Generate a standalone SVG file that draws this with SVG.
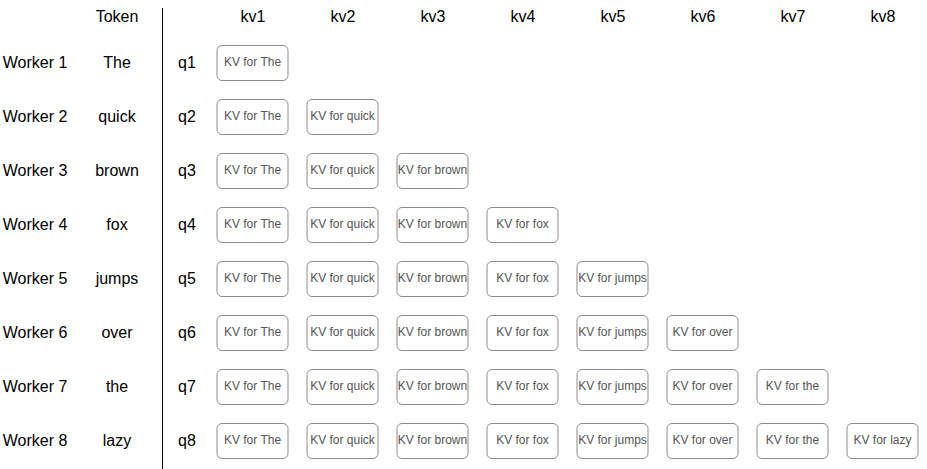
<svg xmlns="http://www.w3.org/2000/svg" width="927" height="469" viewBox="0 0 927 469">
<style>
.lbl{font-family:"Liberation Sans",Arial,sans-serif;font-size:16px;fill:#000;text-anchor:middle;dominant-baseline:central}
.box rect{fill:#fff;stroke:#8c8c8c;stroke-width:1}
.box text{font-family:"Liberation Sans",Arial,sans-serif;font-size:12px;fill:#555;text-anchor:middle;dominant-baseline:central}
</style>
<rect width="927" height="469" fill="#fff"/>
<g id="connectors">
<line x1="162.5" y1="8" x2="162.5" y2="469" stroke="#000" stroke-width="1"/>
</g>
<g id="headers">
<text class="lbl" x="117" y="16.5">Token</text>
<text class="lbl" x="253" y="16.5">kv1</text>
<text class="lbl" x="343" y="16.5">kv2</text>
<text class="lbl" x="433" y="16.5">kv3</text>
<text class="lbl" x="523" y="16.5">kv4</text>
<text class="lbl" x="613" y="16.5">kv5</text>
<text class="lbl" x="703" y="16.5">kv6</text>
<text class="lbl" x="793" y="16.5">kv7</text>
<text class="lbl" x="883" y="16.5">kv8</text>
</g>
<g id="rows">
<g id="row1"><text class="lbl" x="35" y="62">Worker 1</text><text class="lbl" x="117" y="62">The</text><text class="lbl" x="187" y="62">q1</text></g>
<g id="row2"><text class="lbl" x="35" y="116">Worker 2</text><text class="lbl" x="117" y="116">quick</text><text class="lbl" x="187" y="116">q2</text></g>
<g id="row3"><text class="lbl" x="35" y="170">Worker 3</text><text class="lbl" x="117" y="170">brown</text><text class="lbl" x="187" y="170">q3</text></g>
<g id="row4"><text class="lbl" x="35" y="224">Worker 4</text><text class="lbl" x="117" y="224">fox</text><text class="lbl" x="187" y="224">q4</text></g>
<g id="row5"><text class="lbl" x="35" y="278">Worker 5</text><text class="lbl" x="117" y="278">jumps</text><text class="lbl" x="187" y="278">q5</text></g>
<g id="row6"><text class="lbl" x="35" y="332">Worker 6</text><text class="lbl" x="117" y="332">over</text><text class="lbl" x="187" y="332">q6</text></g>
<g id="row7"><text class="lbl" x="35" y="386">Worker 7</text><text class="lbl" x="117" y="386">the</text><text class="lbl" x="187" y="386">q7</text></g>
<g id="row8"><text class="lbl" x="35" y="440">Worker 8</text><text class="lbl" x="117" y="440">lazy</text><text class="lbl" x="187" y="440">q8</text></g>
</g>
<g id="kv1-1" class="box"><rect x="217" y="45.5" width="71" height="35" rx="5"/><text x="252.5" y="62">KV for The</text></g>
<g id="kv2-1" class="box"><rect x="217" y="99.5" width="71" height="35" rx="5"/><text x="252.5" y="116">KV for The</text></g>
<g id="kv2-2" class="box"><rect x="307" y="99.5" width="71" height="35" rx="5"/><text x="342.5" y="116">KV for quick</text></g>
<g id="kv3-1" class="box"><rect x="217" y="153.5" width="71" height="35" rx="5"/><text x="252.5" y="170">KV for The</text></g>
<g id="kv3-2" class="box"><rect x="307" y="153.5" width="71" height="35" rx="5"/><text x="342.5" y="170">KV for quick</text></g>
<g id="kv3-3" class="box"><rect x="397" y="153.5" width="71" height="35" rx="5"/><text x="432.5" y="170">KV for brown</text></g>
<g id="kv4-1" class="box"><rect x="217" y="207.5" width="71" height="35" rx="5"/><text x="252.5" y="224">KV for The</text></g>
<g id="kv4-2" class="box"><rect x="307" y="207.5" width="71" height="35" rx="5"/><text x="342.5" y="224">KV for quick</text></g>
<g id="kv4-3" class="box"><rect x="397" y="207.5" width="71" height="35" rx="5"/><text x="432.5" y="224">KV for brown</text></g>
<g id="kv4-4" class="box"><rect x="487" y="207.5" width="71" height="35" rx="5"/><text x="522.5" y="224">KV for fox</text></g>
<g id="kv5-1" class="box"><rect x="217" y="261.5" width="71" height="35" rx="5"/><text x="252.5" y="278">KV for The</text></g>
<g id="kv5-2" class="box"><rect x="307" y="261.5" width="71" height="35" rx="5"/><text x="342.5" y="278">KV for quick</text></g>
<g id="kv5-3" class="box"><rect x="397" y="261.5" width="71" height="35" rx="5"/><text x="432.5" y="278">KV for brown</text></g>
<g id="kv5-4" class="box"><rect x="487" y="261.5" width="71" height="35" rx="5"/><text x="522.5" y="278">KV for fox</text></g>
<g id="kv5-5" class="box"><rect x="577" y="261.5" width="71" height="35" rx="5"/><text x="612.5" y="278">KV for jumps</text></g>
<g id="kv6-1" class="box"><rect x="217" y="315.5" width="71" height="35" rx="5"/><text x="252.5" y="332">KV for The</text></g>
<g id="kv6-2" class="box"><rect x="307" y="315.5" width="71" height="35" rx="5"/><text x="342.5" y="332">KV for quick</text></g>
<g id="kv6-3" class="box"><rect x="397" y="315.5" width="71" height="35" rx="5"/><text x="432.5" y="332">KV for brown</text></g>
<g id="kv6-4" class="box"><rect x="487" y="315.5" width="71" height="35" rx="5"/><text x="522.5" y="332">KV for fox</text></g>
<g id="kv6-5" class="box"><rect x="577" y="315.5" width="71" height="35" rx="5"/><text x="612.5" y="332">KV for jumps</text></g>
<g id="kv6-6" class="box"><rect x="667" y="315.5" width="71" height="35" rx="5"/><text x="702.5" y="332">KV for over</text></g>
<g id="kv7-1" class="box"><rect x="217" y="369.5" width="71" height="35" rx="5"/><text x="252.5" y="386">KV for The</text></g>
<g id="kv7-2" class="box"><rect x="307" y="369.5" width="71" height="35" rx="5"/><text x="342.5" y="386">KV for quick</text></g>
<g id="kv7-3" class="box"><rect x="397" y="369.5" width="71" height="35" rx="5"/><text x="432.5" y="386">KV for brown</text></g>
<g id="kv7-4" class="box"><rect x="487" y="369.5" width="71" height="35" rx="5"/><text x="522.5" y="386">KV for fox</text></g>
<g id="kv7-5" class="box"><rect x="577" y="369.5" width="71" height="35" rx="5"/><text x="612.5" y="386">KV for jumps</text></g>
<g id="kv7-6" class="box"><rect x="667" y="369.5" width="71" height="35" rx="5"/><text x="702.5" y="386">KV for over</text></g>
<g id="kv7-7" class="box"><rect x="757" y="369.5" width="71" height="35" rx="5"/><text x="792.5" y="386">KV for the</text></g>
<g id="kv8-1" class="box"><rect x="217" y="423.5" width="71" height="35" rx="5"/><text x="252.5" y="440">KV for The</text></g>
<g id="kv8-2" class="box"><rect x="307" y="423.5" width="71" height="35" rx="5"/><text x="342.5" y="440">KV for quick</text></g>
<g id="kv8-3" class="box"><rect x="397" y="423.5" width="71" height="35" rx="5"/><text x="432.5" y="440">KV for brown</text></g>
<g id="kv8-4" class="box"><rect x="487" y="423.5" width="71" height="35" rx="5"/><text x="522.5" y="440">KV for fox</text></g>
<g id="kv8-5" class="box"><rect x="577" y="423.5" width="71" height="35" rx="5"/><text x="612.5" y="440">KV for jumps</text></g>
<g id="kv8-6" class="box"><rect x="667" y="423.5" width="71" height="35" rx="5"/><text x="702.5" y="440">KV for over</text></g>
<g id="kv8-7" class="box"><rect x="757" y="423.5" width="71" height="35" rx="5"/><text x="792.5" y="440">KV for the</text></g>
<g id="kv8-8" class="box"><rect x="847" y="423.5" width="71" height="35" rx="5"/><text x="882.5" y="440">KV for lazy</text></g>
</svg>
